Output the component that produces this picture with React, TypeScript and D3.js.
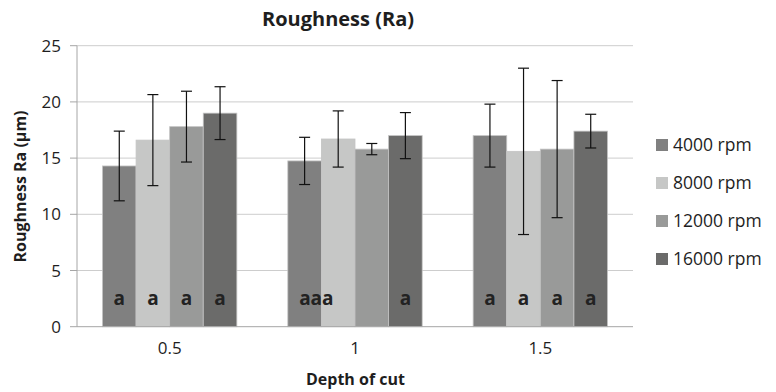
import React from 'react';
import * as d3 from 'd3';

// depth of cut categories
const depths = ['0.5', '1', '1.5'];
const speeds = ['4000 rpm', '8000 rpm', '12000 rpm', '16000 rpm'];
const colors = ['#808080', '#c6c7c6', '#999a99', '#6b6b6a'];

// mean Ra per speed, one value per depth
const ra4000 = [14.3, 14.75, 17.0];
const ra8000 = [16.6, 16.7, 15.6];
const ra12000 = [17.8, 15.8, 15.8];
const ra16000 = [19.0, 17.0, 17.4];

// +/- error per speed, one value per depth
const err4000 = [3.1, 2.1, 2.8];
const err8000 = [4.05, 2.5, 7.4];
const err12000 = [3.15, 0.5, 6.1];
const err16000 = [2.35, 2.05, 1.5];

// significance letters
const let4000 = ['a', 'aaa', 'a'];
const let8000 = ['a', '', 'a'];
const let12000 = ['a', '', 'a'];
const let16000 = ['a', 'a', 'a'];

const yTicks = [0, 5, 10, 15, 20, 25];

const means = [ra4000, ra8000, ra12000, ra16000];
const errs = [err4000, err8000, err12000, err16000];
const letters = [let4000, let8000, let12000, let16000];

const W = 776;
const H = 392;
const margin = { top: 45.7, right: 143, bottom: 65.3, left: 77 };
const font = '"Open Sans", "Noto Sans", sans-serif';

export default function App() {
    const x0 = d3.scaleBand()
        .domain(depths)
        .range([margin.left, W - margin.right])
        .paddingInner(0.275)
        .paddingOuter(0.1375);

    const x1 = d3.scaleBand()
        .domain(speeds)
        .range([0, x0.bandwidth()]);

    const y = d3.scaleLinear()
        .domain([0, 25])
        .range([H - margin.bottom, margin.top]);

    const bw = x1.bandwidth();

    return (
        <svg width={W} height={H} style={{ position: 'absolute', left: 0, top: 0, background: '#fff' }}
            fontFamily={font}>
            {/* gridlines */}
            {yTicks.filter(t => t > 0).map(t => (
                <line key={'g' + t} x1={margin.left} x2={W - margin.right} y1={y(t)} y2={y(t)}
                    stroke="#cdcdcd" strokeWidth={1} />
            ))}

            {/* bars */}
            {speeds.map((s, si) => depths.map((d, di) => {
                const bx = x0(d)! + x1(s)!;
                return (
                    <rect key={s + d} x={bx} y={y(means[si][di])} width={bw}
                        height={y(0) - y(means[si][di])} fill={colors[si]}
                        stroke="#c4c4c4" strokeWidth={0.8} />
                );
            }))}

            {/* error bars */}
            {speeds.map((s, si) => depths.map((d, di) => {
                const cx = x0(d)! + x1(s)! + bw / 2;
                const hi = y(means[si][di] + errs[si][di]);
                const lo = y(means[si][di] - errs[si][di]);
                return (
                    <g key={'e' + s + d} stroke="#111" strokeWidth={1.2}>
                        <line x1={cx} x2={cx} y1={hi} y2={lo} />
                        <line x1={cx - 5.5} x2={cx + 5.5} y1={hi} y2={hi} />
                        <line x1={cx - 5.5} x2={cx + 5.5} y1={lo} y2={lo} />
                    </g>
                );
            }))}

            {/* letters */}
            {speeds.map((s, si) => depths.map((d, di) => {
                const txt = letters[si][di];
                if (!txt) return null;
                let cx = x0(d)! + x1(s)! + bw / 2;
                if (txt.length > 1) cx += bw * 0.35;
                return (
                    <text key={'l' + s + d} x={cx} y={y(0) - 22} textAnchor="middle"
                        fontSize={19} fontWeight="bold" fill="#222">{txt}</text>
                );
            }))}

            {/* axes */}
            <line x1={margin.left} x2={margin.left} y1={y(25)} y2={y(0)} stroke="#a6a6a6" />
            <line x1={margin.left} x2={W - margin.right} y1={y(0)} y2={y(0)} stroke="#a6a6a6" />
            {yTicks.map(t => (
                <g key={'t' + t}>
                    <line x1={margin.left - 7} x2={margin.left} y1={y(t)} y2={y(t)} stroke="#a6a6a6" />
                    <text x={61} y={y(t) + 6} textAnchor="end" fontSize={17} fill="#1e1e1e">{t}</text>
                </g>
            ))}
            {depths.map(d => (
                <text key={'x' + d} x={x0(d)! + x0.bandwidth() / 2} y={353.5} textAnchor="middle"
                    fontSize={17} fill="#1e1e1e">{d}</text>
            ))}

            {/* titles */}
            <text x={338} y={26} textAnchor="middle" fontSize={20} fontWeight="bold" fill="#1e1e1e">Roughness (Ra)</text>
            <text x={355.5} y={385} textAnchor="middle" fontSize={16} fontWeight="bold" fill="#1e1e1e">Depth of cut</text>
            <text transform="translate(26,186.5) rotate(-90)" textAnchor="middle" fontSize={16}
                fontWeight="bold" fill="#1e1e1e">Roughness Ra (µm)</text>

            {/* legend */}
            {speeds.map((s, si) => (
                <g key={'lg' + s} transform={`translate(656,${145 + si * 38})`}>
                    <rect x={0} y={-6} width={12} height={12} fill={colors[si]} />
                    <text x={17} y={6} fontSize={17.5} fill="#1e1e1e">{s}</text>
                </g>
            ))}
        </svg>
    );
}
